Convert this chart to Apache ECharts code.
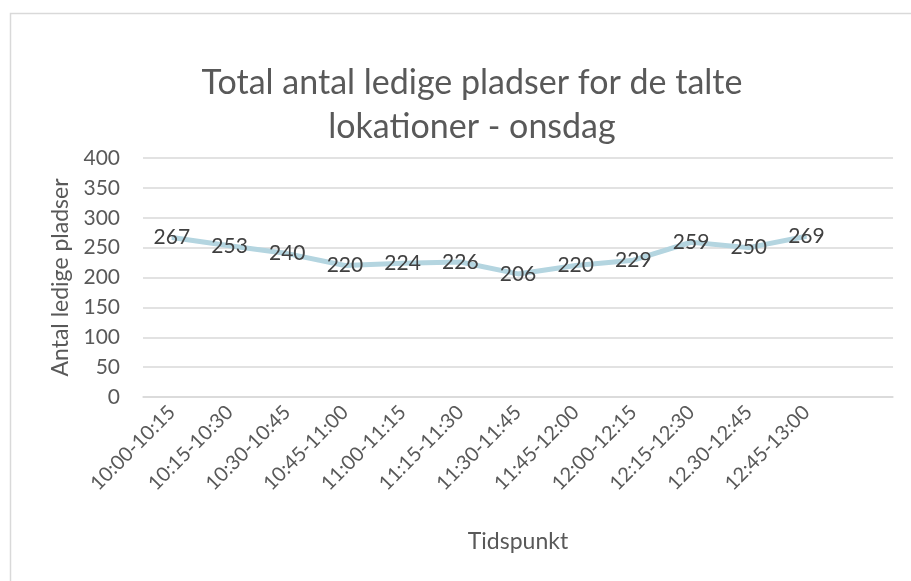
<!DOCTYPE html>
<html>
<head>
<meta charset="utf-8">
<script src="https://cdn.jsdelivr.net/npm/echarts@6/dist/echarts.min.js"></script>
<style>
  html, body { margin: 0; padding: 0; background: #fff; }
  #chart { width: 911px; height: 581px; }
</style>
</head>
<body>
<div id="chart"></div>
<script>
// tidsintervaller (sidste plads er tom, som i originalen)
var categories = ['10:00-10:15', '10:15-10:30', '10:30-10:45', '10:45-11:00', '11:00-11:15', '11:15-11:30',
  '11:30-11:45', '11:45-12:00', '12:00-12:15', '12:15-12:30', '12.30-12:45', '12:45-13:00', ''];
var ledigePladser = [267, 253, 240, 220, 224, 226, 206, 220, 229, 259, 250, 269];

var font = 'Lato, "Open Sans", sans-serif';
var myChart = echarts.init(document.getElementById('chart'));
myChart.setOption({
  animation: false,
  textStyle: { fontFamily: font },
  title: {
    text: 'Total antal ledige pladser for de talte\nlokationer - onsdag',
    left: 467,
    top: 56,
    textAlign: 'center',
    textStyle: { fontFamily: font, fontSize: 34, fontWeight: 'normal', color: '#595959', lineHeight: 44 }
  },
  // ramme om diagrammet
  graphic: [{
    type: 'rect',
    shape: { x: 10.5, y: 13.5, width: 1200, height: 1200 },
    style: { fill: 'none', stroke: '#d9d9d9', lineWidth: 1.5 },
    silent: true
  }],
  grid: { left: 143, right: 18, top: 158, bottom: 184, containLabel: false },
  xAxis: {
    type: 'category',
    data: categories,
    boundaryGap: true,
    name: 'Tidspunkt',
    nameLocation: 'middle',
    nameGap: 133,
    nameTextStyle: { fontFamily: font, fontSize: 23, color: '#595959' },
    axisLine: { show: true, lineStyle: { color: '#d9d9d9', width: 1.5 } },
    axisTick: { show: false },
    axisLabel: { rotate: 45, margin: 12, fontSize: 20, color: '#595959', fontFamily: font, interval: 0 }
  },
  yAxis: {
    type: 'value',
    min: 0,
    max: 400,
    interval: 50,
    name: 'Antal ledige pladser',
    nameLocation: 'middle',
    nameGap: 70,
    nameTextStyle: { fontFamily: font, fontSize: 23, color: '#595959' },
    axisLine: { show: false },
    axisTick: { show: false },
    axisLabel: { margin: 23, fontSize: 21, color: '#595959', fontFamily: font },
    splitLine: { lineStyle: { color: '#d9d9d9', width: 1.5 } }
  },
  series: [{
    name: 'Ledige pladser',
    type: 'line',
    data: ledigePladser,
    symbol: 'circle',
    symbolSize: 1,
    itemStyle: { color: '#b4d5e0' },
    lineStyle: { color: '#b4d5e0', width: 5 },
    label: {
      show: true,
      position: 'inside',
      fontSize: 21,
      color: '#404040',
      fontFamily: font
    }
  }]
});
window.addEventListener('resize', function () {
  myChart.resize();
});
</script>
</body>
</html>
